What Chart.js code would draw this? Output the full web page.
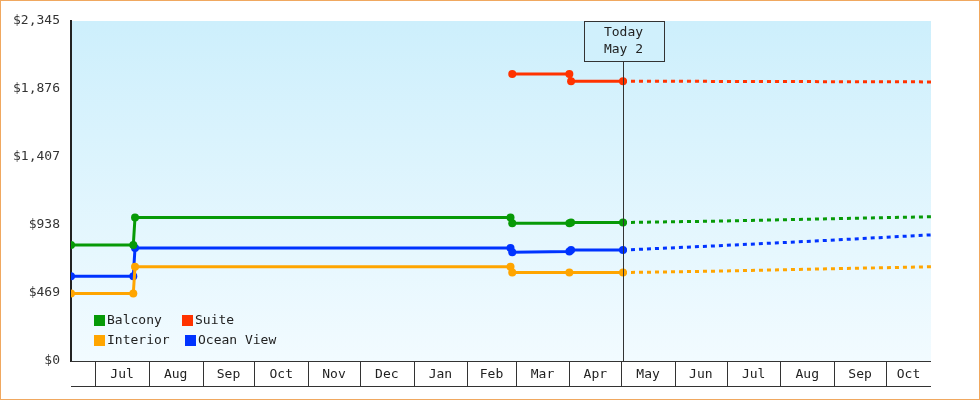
<!DOCTYPE html>
<html><head><meta charset="utf-8">
<script src="https://cdn.jsdelivr.net/npm/chart.js@4"></script>
<style>html,body{margin:0;padding:0;background:#fff}#w{width:978px;height:398px;border:1px solid #f0a860;}</style>
</head><body><div id="w"><canvas id="c"></canvas></div>
<script>
// days measured from Jul 1
const balcony = [[-14,800],[22,800],[23,990],[240,990],[241,950],[274,950],[275,955],[305,955]];
const balconyFc = [[305,955],[360,965],[400,975],[440,985],[483,995]];
const interior = [[-14,465],[22,465],[23,650],[240,650],[241,610],[274,610],[305,610]];
const interiorFc = [[305,610],[360,620],[420,635],[483,650]];
const ocean = [[-14,585],[22,585],[23,780],[240,780],[241,750],[274,755],[275,765],[305,765]];
const oceanFc = [[305,765],[360,795],[420,830],[483,870]];
const suite = [[241,1980],[274,1980],[275,1930],[305,1930]];
const suiteFc = [[305,1930],[483,1925]];
const monthStarts = [-14,0,31,62,92,123,153,184,215,243,274,304,335,365,396,427,457,483];
const monthNames = ["","Jul","Aug","Sep","Oct","Nov","Dec","Jan","Feb","Mar","Apr","May","Jun","Jul","Aug","Sep","Oct"];
const todayDay = 305, todayLabel = ["Today","May 2"];
const FONT = "'DejaVu Sans Mono', monospace";
const pts = a => a.map(p => ({x:p[0], y:p[1]}));
const solid = (label,color,d) => ({label, data:pts(d), borderColor:color, backgroundColor:color, borderWidth:3, pointRadius:4, pointHoverRadius:4, pointBorderWidth:0});
const dotted = (color,d) => ({label:'_fc', data:pts(d), borderColor:color, borderWidth:3, borderDash:[4,4], pointRadius:0});
const bg = {id:'bg', beforeDraw(c){const {ctx,chartArea:a}=c;const g=ctx.createLinearGradient(0,a.top,0,a.bottom);g.addColorStop(0,'#cdeffc');g.addColorStop(1,'#f2fbff');ctx.save();ctx.fillStyle=g;ctx.fillRect(a.left,a.top,a.right-a.left,a.bottom-a.top);ctx.restore();}};
const deco = {id:'deco', afterDraw(c){const {ctx,chartArea:a}=c;const x=c.scales.x;ctx.save();
 ctx.strokeStyle='#333';ctx.lineWidth=1;ctx.font='13px '+FONT;ctx.fillStyle='#222';ctx.textAlign='center';ctx.textBaseline='middle';
 ctx.beginPath();ctx.moveTo(a.left,385.5);ctx.lineTo(a.right,385.5);ctx.moveTo(a.left,360.5);ctx.lineTo(a.right,360.5);
 for(let i=1;i<monthStarts.length-1;i++){const px=Math.round(x.getPixelForValue(monthStarts[i]))+0.5;ctx.moveTo(px,361);ctx.lineTo(px,385);}
 ctx.stroke();
 for(let i=0;i<monthNames.length;i++){const l=x.getPixelForValue(monthStarts[i]),r=x.getPixelForValue(monthStarts[i+1]);ctx.fillText(monthNames[i],(l+r)/2,374);}
 const tx=Math.round(x.getPixelForValue(todayDay))+0.5;
 ctx.beginPath();ctx.moveTo(tx,60);ctx.lineTo(tx,a.bottom);ctx.stroke();
 ctx.fillStyle='#d0f0fc';ctx.fillRect(583.5,20.5,80,40);ctx.strokeRect(583.5,20.5,80,40);
 ctx.fillStyle='#222';ctx.fillText(todayLabel[0],tx,32);ctx.fillText(todayLabel[1],tx,49);
 ctx.restore();}};
new Chart(document.getElementById('c'),{type:'line',
 data:{datasets:[solid('Balcony','#079a07',balcony),solid('Suite','#ff3300',suite),solid('Interior','#ffa500',interior),solid('Ocean View','#0033ff',ocean),
  dotted('#079a07',balconyFc),dotted('#ff3300',suiteFc),dotted('#ffa500',interiorFc),dotted('#0033ff',oceanFc)]},
 options:{responsive:true,maintainAspectRatio:false,animation:false,
  layout:{padding:{top:20,right:48,bottom:38,left:0}},
  plugins:{tooltip:{enabled:false},legend:{display:false}},
  scales:{x:{type:'linear',min:-14,max:483,display:false},
   y:{min:0,max:2345,afterFit(s){s.width=70;},grid:{display:false,drawTicks:true},border:{color:'#222',width:2},
    ticks:{stepSize:500,color:'#333',font:{family:FONT,size:13},callback:v=>'$'+v.toLocaleString('en-US')}}}},
 plugins:[bg,deco,{id:'leg',afterDraw(c){const ctx=c.ctx;ctx.save();ctx.font='13px '+FONT;ctx.textBaseline='middle';ctx.textAlign='left';
  const items=[['Balcony','#079a07',93,320],['Suite','#ff3300',181,320],['Interior','#ffa500',93,340],['Ocean View','#0033ff',184,340]];
  for(const [t,col,lx,ly] of items){ctx.fillStyle=col;ctx.fillRect(lx,ly-6,11,11);ctx.fillStyle='#222';ctx.fillText(t,lx+13,ly);}ctx.restore();}}]
});
</script></body></html>
